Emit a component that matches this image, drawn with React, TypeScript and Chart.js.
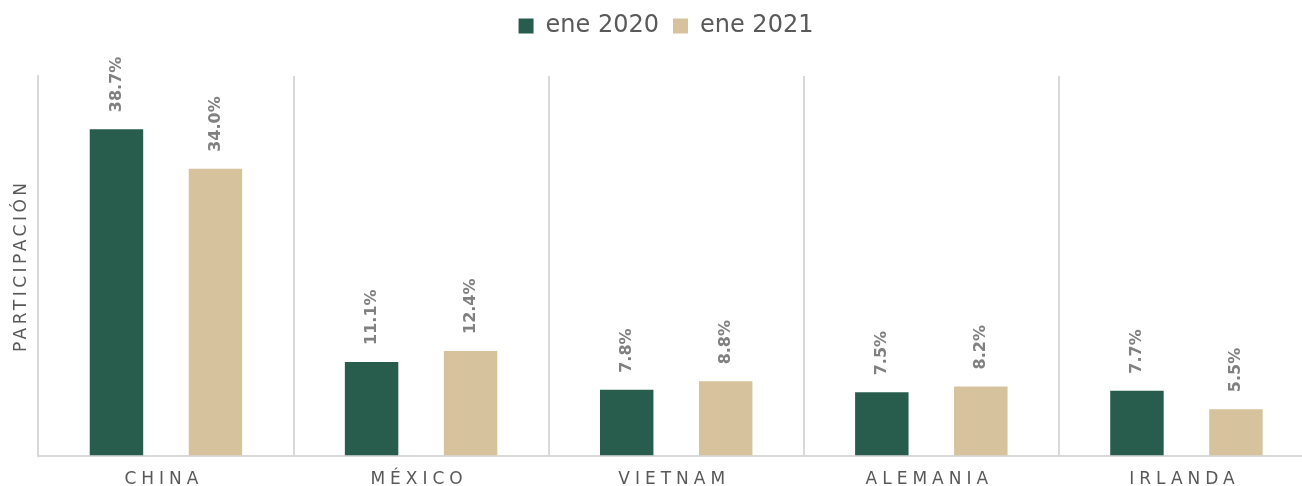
import React, { useEffect, useRef } from "react";
import { Chart, registerables } from "chart.js";

Chart.register(...registerables);

const categories = ["CHINA", "MÉXICO", "VIETNAM", "ALEMANIA", "IRLANDA"];
const seriesNames = ["ene 2020", "ene 2021"];
const values2020 = [38.7, 11.1, 7.8, 7.5, 7.7];
const values2021 = [34.0, 12.4, 8.8, 8.2, 5.5];
const yTitle = "PARTICIPACIÓN";

const GREEN = "#285C4D";
const TAN = "#D6C29C";
const GRID = "#D9D9D9";
const TEXT = "#595959";
const FONT = "'DejaVu Sans', sans-serif";

const legendSpacePlugin = {
  id: "legendSpace",
  beforeInit(chart: any) {
    const legend = chart.legend;
    if (!legend) return;
    const origFit = legend.fit;
    legend.fit = function () {
      origFit.call(this);
      this.height += 28;
    };
  },
  afterLayout(chart: any) {
    const legend = chart.legend;
    if (!legend) return;
    legend.left += 9;
    legend.right += 9;
  },
};

const letterSpacingPlugin = {
  id: "letterSpacing",
  beforeDraw(chart: any) {
    const xs = chart.scales.x;
    if (xs && !xs.__wrapped) {
      const orig = xs.drawLabels;
      xs.drawLabels = function (area: any) {
        const ctx = chart.ctx;
        ctx.save();
        (ctx as any).letterSpacing = "5px";
        ctx.translate(-2, 0);
        orig.call(this, area);
        ctx.restore();
      };
      xs.__wrapped = true;
    }
    const ys = chart.scales.y;
    if (ys && !ys.__wrapped) {
      const orig = ys.drawTitle;
      ys.drawTitle = function () {
        const ctx = chart.ctx;
        ctx.save();
        (ctx as any).letterSpacing = "3.5px";
        orig.call(this);
        ctx.restore();
      };
      ys.__wrapped = true;
    }
  },
};

const dataLabelPlugin = {
  id: "dataLabels",
  afterDatasetsDraw(chart: any) {
    const ctx = chart.ctx;
    chart.data.datasets.forEach((ds: any, di: number) => {
      const meta = chart.getDatasetMeta(di);
      meta.data.forEach((bar: any, i: number) => {
        const v = ds.data[i] as number;
        ctx.save();
        ctx.translate(bar.x, bar.y - 17);
        ctx.rotate(-Math.PI / 2);
        ctx.font = `bold 16px ${FONT}`;
        ctx.fillStyle = "#808080";
        ctx.textAlign = "left";
        ctx.textBaseline = "middle";
        ctx.fillText(v.toFixed(1) + "%", 0, 0);
        ctx.restore();
      });
    });
  },
};

export default function App() {
  const ref = useRef<HTMLCanvasElement | null>(null);

  useEffect(() => {
    if (!ref.current) return;
    const chart = new Chart(ref.current, {
      type: "bar",
      data: {
        labels: categories,
        datasets: [
          {
            label: seriesNames[0],
            data: values2020,
            backgroundColor: GREEN,
            borderWidth: 0,
            categoryPercentage: 0.776,
            barPercentage: 0.54,
          },
          {
            label: seriesNames[1],
            data: values2021,
            backgroundColor: TAN,
            borderWidth: 0,
            categoryPercentage: 0.776,
            barPercentage: 0.54,
          },
        ],
      },
      options: {
        responsive: false,
        animation: false,
        devicePixelRatio: 1,
        layout: { padding: 0 },
        plugins: {
          tooltip: { enabled: false },
          legend: {
            position: "top",
            align: "center",
            labels: {
              boxWidth: 15,
              boxHeight: 15,
              padding: 14,
              color: TEXT,
              font: { family: FONT, size: 24 },
            },
          },
        },
        scales: {
          x: {
            grid: {
              display: true,
              color: GRID,
              lineWidth: 2,
              drawTicks: false,
              offset: true,
            },
            border: { display: true, color: GRID, width: 2 },
            ticks: {
              color: TEXT,
              padding: 14,
              font: { family: FONT, size: 17 },
            },
          },
          y: {
            min: 0,
            max: 45,
            grid: { display: false, drawTicks: false },
            border: { display: true, color: GRID, width: 2 },
            ticks: { display: false },
            title: {
              display: true,
              text: yTitle,
              color: TEXT,
              font: { family: FONT, size: 17 },
              padding: { top: 11, bottom: 7 },
            },
          },
        },
      },
      plugins: [legendSpacePlugin, letterSpacingPlugin, dataLabelPlugin],
    });
    return () => chart.destroy();
  }, []);

  return (
    <div
      style={{
        position: "fixed",
        left: 0,
        top: 0,
        width: 1302,
        height: 486,
        overflow: "hidden",
        background: "#fff",
      }}
    >
      <canvas ref={ref} width={1314} height={504} style={{ display: "block" }} />
    </div>
  );
}
